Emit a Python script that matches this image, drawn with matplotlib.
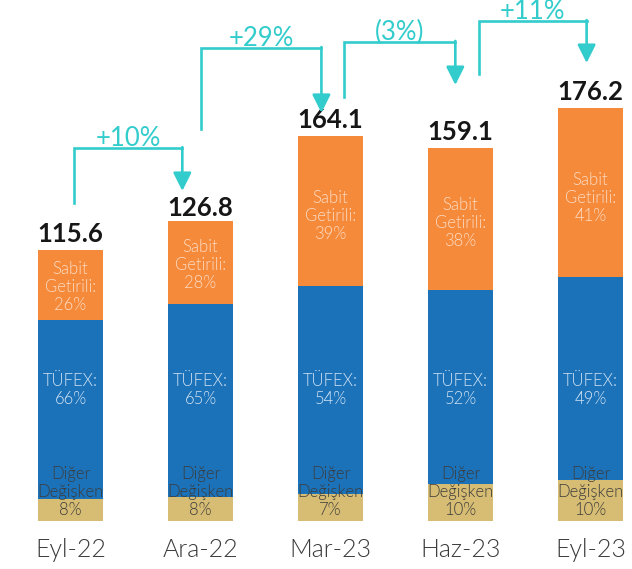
import matplotlib
matplotlib.use("Agg")
import matplotlib.pyplot as plt
import numpy as np

# quarter-end fund sizes and composition shares
periods = ["Eyl-22", "Ara-22", "Mar-23", "Haz-23", "Eyl-23"]
totals = [115.6, 126.8, 164.1, 159.1, 176.2]
share_other = [8, 8, 7, 10, 10]      # Diğer Değişken
share_tufex = [66, 65, 54, 52, 49]   # TÜFEX
share_fixed = [26, 28, 39, 38, 41]   # Sabit Getirili
changes = ["+10%", "+29%", "(3%)", "+11%"]

ORANGE = "#F58A3B"
BLUE = "#1B72B9"
GOLD = "#D7BD73"
TEAL = "#33CCCC"

plt.rcParams["font.family"] = ["Lato", "DejaVu Sans"]

fig = plt.figure(figsize=(6.32, 5.69), dpi=100)
ax = fig.add_axes([0, 48 / 569, 1, 521 / 569])

x = np.arange(len(periods))
totals = np.array(totals)
other = totals * np.array(share_other) / 100
tufex = totals * np.array(share_tufex) / 100
fixed = totals * np.array(share_fixed) / 100

w = 0.5
ax.bar(x, other, w, color=GOLD)
ax.bar(x, tufex, w, bottom=other, color=BLUE)
ax.bar(x, fixed, w, bottom=other + tufex, color=ORANGE)

seg_font = dict(fontsize=12, fontweight=300, ha="center", va="center",
                linespacing=1.15)
for i in range(len(periods)):
    # fixed income share
    ax.text(x[i], other[i] + tufex[i] + fixed[i] * 0.47,
            f"Sabit\nGetirili:\n{share_fixed[i]}%", color="#FDDCC4", **seg_font)
    # TÜFEX share
    ax.text(x[i], 56, f"TÜFEX:\n{share_tufex[i]}%", color="#D3E3F3", **seg_font)
    # other variable share
    ax.text(x[i], 12.4, f"Diğer\nDeğişken\n{share_other[i]}%", color="#3C3C3C",
            **seg_font)
    # total label
    ax.annotate(f"{totals[i]:.1f}", (x[i], totals[i]), xytext=(0, 5.8),
                textcoords="offset points", ha="center", va="baseline",
                fontsize=18.5, fontweight="bold", color="#161616")

# growth arrows between consecutive quarters
start_dx = [0.03, 0.0, 0.1, 0.14]
end_dx = [-0.14, -0.07, -0.04, -0.03]
start_y = [135.7, 167.2, 180.9, 190.7]
level_y = [159.1, 201.8, 204.4, 213.3]
tip_y = [140.8, 174.1, 186.0, 195.4]
for i, lab in enumerate(changes):
    x0 = x[i] + start_dx[i]
    x1 = x[i + 1] + end_dx[i]
    ax.plot([x0, x0, x1], [start_y[i], level_y[i], level_y[i]], color=TEAL,
            lw=1.9, solid_joinstyle="miter", clip_on=False)
    ax.annotate("", xy=(x1, tip_y[i]), xytext=(x1, level_y[i] + 0.4),
                arrowprops=dict(arrowstyle="-|>,head_length=1.1,head_width=0.55",
                                color=TEAL, lw=1.9, shrinkA=0, shrinkB=0,
                                mutation_scale=10),
                annotation_clip=False)
    ax.annotate(lab, ((x0 + x1) / 2, level_y[i]), xytext=(0, 1.5),
                textcoords="offset points", ha="center", va="baseline",
                fontsize=18.5, color=TEAL, annotation_clip=False)

ax.set_xlim(-0.5423, 4.319)
ax.set_ylim(0, 222.27)
ax.set_xticks(x, periods)
ax.tick_params(axis="x", length=0, pad=12, labelsize=18, labelcolor="#3A3A3A")
for t in ax.get_xticklabels():
    t.set_fontweight(300)
ax.set_yticks([])
for s in ax.spines.values():
    s.set_visible(False)

fig.savefig("out.png", dpi=100)
